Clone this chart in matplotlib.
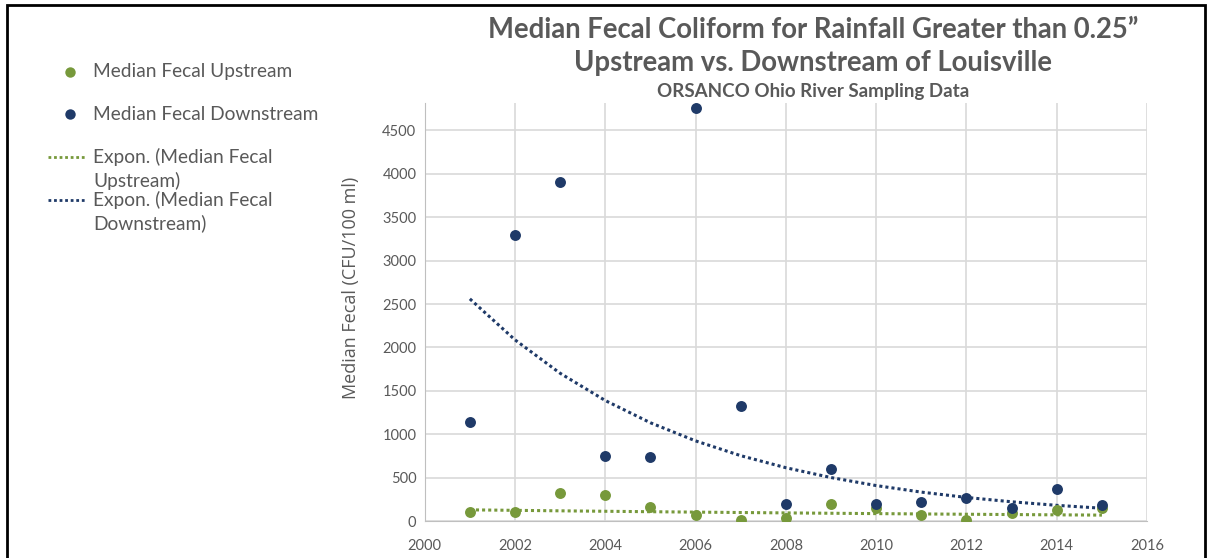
import numpy as np
import matplotlib
matplotlib.use("Agg")
import matplotlib.pyplot as plt
from matplotlib.lines import Line2D
from matplotlib.patches import Rectangle

years = [2001, 2002, 2003, 2004, 2005, 2006, 2007, 2008, 2009, 2010, 2011, 2012, 2013, 2014, 2015]
upstream = [100, 107, 320, 296, 158, 73, 15, 40, 192, 150, 66, 15, 92, 130, 150]
downstream = [1135, 3290, 3900, 745, 735, 4760, 1330, 192, 595, 195, 215, 262, 155, 370, 182]
x_ticks = [2000, 2002, 2004, 2006, 2008, 2010, 2012, 2014, 2016]
y_ticks = [0, 500, 1000, 1500, 2000, 2500, 3000, 3500, 4000, 4500]
legend_labels = ["Median Fecal Upstream", "Median Fecal Downstream",
                 "Expon. (Median Fecal\nUpstream)", "Expon. (Median Fecal\nDownstream)"]

green = "#77993B"
blue = "#1F3A68"
gray_text = "#595959"
grid_c = "#D9D9D9"

plt.rcParams['font.family'] = ['Lato', 'DejaVu Sans']

W, H = 1210, 558
fig = plt.figure(figsize=(W / 100, H / 100), dpi=100)
ax = fig.add_axes([0.351, 0.0663, 0.597, 0.749])


def expon_fit(x, y):
    x = np.asarray(x, float)
    y = np.asarray(y, float)
    b, lna = np.polyfit(x - x[0], np.log(y), 1)
    return np.exp(lna) * np.exp(b * (x - x[0]))

xs = np.array(years, float)
ax.plot(xs, expon_fit(years, upstream), color=green, lw=2.2, ls=(0, (1, 1)), zorder=2)
ax.plot(xs, expon_fit(years, downstream), color=blue, lw=2.2, ls=(0, (1, 1)), zorder=2)
ax.scatter(years, upstream, s=62, color=green, zorder=3, linewidths=0)
ax.scatter(years, downstream, s=62, color=blue, zorder=4, linewidths=0)

ax.set_xlim(2000, 2016)
ax.set_ylim(0, 4815)
ax.set_xticks(x_ticks)
ax.set_yticks(y_ticks)
ax.grid(True, color=grid_c, lw=1.2)
ax.set_axisbelow(True)
for s in ['top', 'right']:
    ax.spines[s].set_visible(False)
ax.spines['left'].set_color('#BFBFBF')
ax.spines['bottom'].set_color('#BFBFBF')
ax.tick_params(length=0, labelsize=10.5, labelcolor=gray_text)
ax.tick_params(axis='y', pad=6)
ax.tick_params(axis='x', pad=13)
ax.set_ylabel("Median Fecal (CFU/100 ml)", fontsize=13, color=gray_text,
              family=['Open Sans', 'DejaVu Sans'])
ax.yaxis.set_label_coords(-0.089, 0.557)

fig.text(0.672, 1 - 30 / H, "Median Fecal Coliform for Rainfall Greater than 0.25\u201d",
         ha='center', va='center', fontsize=19.8, fontweight='bold', color=gray_text)
fig.text(0.672, 1 - 63 / H, "Upstream vs. Downstream of Louisville",
         ha='center', va='center', fontsize=19.8, fontweight='bold', color=gray_text)
fig.text(0.672, 1 - 91 / H, "ORSANCO Ohio River Sampling Data",
         ha='center', va='center', fontsize=13.5, fontweight='bold', color=gray_text)

# manual legend (figure pixel layout)
def fx(px):
    return px / W

def fy(py):
    return 1 - py / H

leg_fs = 13.8
text_x = fx(93)
fig.add_artist(Line2D([fx(70)], [fy(72)], ls='none', marker='o', ms=7.5, color=green, mew=0,
                      transform=fig.transFigure))
fig.text(text_x, fy(72), legend_labels[0], ha='left', va='center', fontsize=leg_fs, color=gray_text)
fig.add_artist(Line2D([fx(70)], [fy(114)], ls='none', marker='o', ms=7.5, color=blue, mew=0,
                      transform=fig.transFigure))
fig.text(text_x, fy(114), legend_labels[1], ha='left', va='center', fontsize=leg_fs, color=gray_text)
fig.add_artist(Line2D([fx(48), fx(86)], [fy(157), fy(157)], color=green, lw=2, ls=(0, (1, 1)),
                      transform=fig.transFigure))
fig.text(text_x, fy(157), legend_labels[2].split("\n")[0], ha='left', va='center', fontsize=leg_fs, color=gray_text)
fig.text(text_x, fy(181), legend_labels[2].split("\n")[1], ha='left', va='center', fontsize=leg_fs, color=gray_text)
fig.add_artist(Line2D([fx(48), fx(86)], [fy(200), fy(200)], color=blue, lw=2, ls=(0, (1, 1)),
                      transform=fig.transFigure))
fig.text(text_x, fy(200), legend_labels[3].split("\n")[0], ha='left', va='center', fontsize=leg_fs, color=gray_text)
fig.text(text_x, fy(223), legend_labels[3].split("\n")[1], ha='left', va='center', fontsize=leg_fs, color=gray_text)

fig.patches.append(Rectangle((7 / W, -0.05), (1205 - 7) / W, 1.05 - 5 / H,
                             transform=fig.transFigure, fill=False, ec='black', lw=2))

fig.savefig("out.png", dpi=100)
